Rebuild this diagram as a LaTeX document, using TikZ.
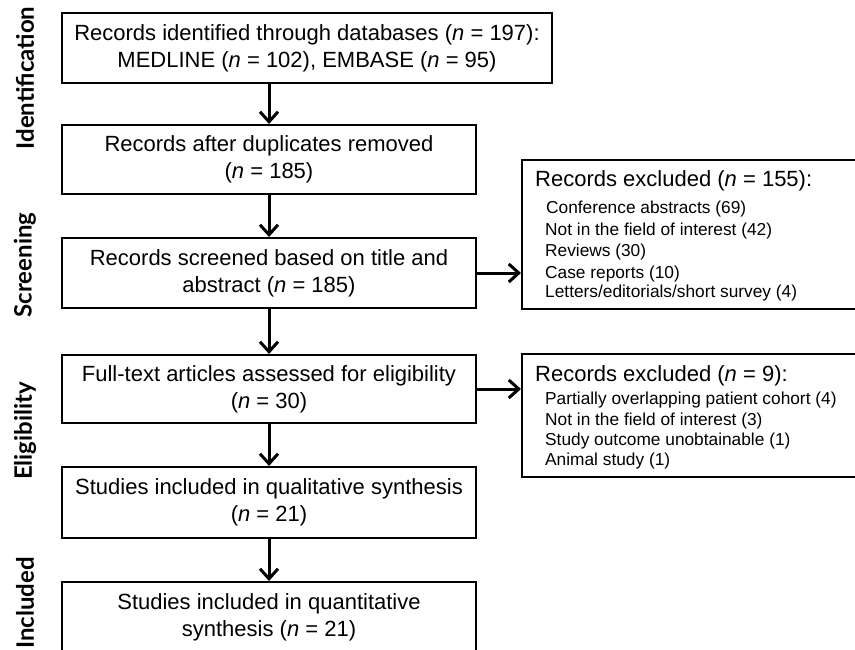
\documentclass[tikz,border=0pt]{standalone}
\usepackage{fontspec}
\setmainfont{Liberation Sans}
\newfontfamily\lblfont{Lato}
\usetikzlibrary{arrows.meta}
\begin{document}
\begin{tikzpicture}[x=1pt,y=-1pt,
  mainbox/.style={draw, line width=2pt, inner sep=0pt, align=center, font=\fontsize{22}{27}\selectfont},
  sidebox/.style={draw, line width=2pt, inner sep=0pt, anchor=north west},
  arr/.style={line width=3pt, -{Straight Barb[length=10pt,width=18pt]}},
  stage/.style={rotate=90, font=\lblfont\bfseries\fontsize{24}{28}\selectfont},
  head/.style={anchor=base west, inner sep=0pt, font=\fontsize{22}{26}\selectfont},
  item/.style={anchor=base west, inner sep=0pt, font=\fontsize{17.3}{20}\selectfont}]
\useasboundingbox (0,0) rectangle (855,650);
\clip (0,0) rectangle (855,650);

% stage labels
\node[stage] (s1) at (25,78) {Identification};
\node[stage] (s2) at (25,265) {Screening};
\node[stage] (s3) at (25,431) {Eligibility};
\node[stage] (s4) at (25,603) {Included};

% main boxes
\node[mainbox, minimum width=490pt, minimum height=70pt] (b1) at (307,48)
  {Records identified through databases (\textit{n} = 197):\\MEDLINE (\textit{n} = 102), EMBASE (\textit{n} = 95)};
\node[mainbox, minimum width=414pt, minimum height=69pt] (b2) at (269,159.5)
  {Records after duplicates removed\\(\textit{n} = 185)};
\node[mainbox, minimum width=414pt, minimum height=70pt] (b3) at (269,273)
  {Records screened based on title and\\abstract (\textit{n} = 185)};
\node[mainbox, minimum width=414pt, minimum height=68pt] (b4) at (269,389)
  {Full-text articles assessed for eligibility\\(\textit{n} = 30)};
\node[mainbox, minimum width=414pt, minimum height=71pt] (b5) at (269,502.5)
  {Studies included in qualitative synthesis\\(\textit{n} = 21)};
\node[mainbox, minimum width=414pt, minimum height=70pt] (b6) at (269,617)
  {Studies included in quantitative\\synthesis (\textit{n} = 21)};

% side boxes
\node[sidebox, minimum width=360pt, minimum height=149pt] (r1) at (521,159) {};
\node[sidebox, minimum width=360pt, minimum height=123pt] (r2) at (521,353) {};

\node[head] (h1) at (535,187) {Records excluded (\textit{n} = 155):};
\node[item] (i11) at (546,214) {Conference abstracts (69)};
\node[item] (i12) at (545,236) {Not in the field of interest (42)};
\node[item] (i13) at (545,257) {Reviews (30)};
\node[item] (i14) at (545,278) {Case reports (10)};
\node[item] (i15) at (545,298) {Letters/editorials/short survey (4)};

\node[head] (h2) at (535,381) {Records excluded (\textit{n} = 9):};
\node[item] (i21) at (545,404) {Partially overlapping patient cohort (4)};
\node[item] (i22) at (545,425) {Not in the field of interest (3)};
\node[item] (i23) at (545,445) {Study outcome unobtainable (1)};
\node[item] (i24) at (545,465) {Animal study (1)};

% arrows
\draw[arr] (b2.north |- b1.south) -- (b2.north);
\draw[arr] (b2.south) -- (b3.north);
\draw[arr] (b3.south) -- (b4.north);
\draw[arr] (b4.south) -- (b5.north);
\draw[arr] (b5.south) -- (b6.north);
\draw[arr] (b3.east) -- (b3.east -| r1.west);
\draw[arr] (b4.east) -- (b4.east -| r2.west);
\end{tikzpicture}
\end{document}
